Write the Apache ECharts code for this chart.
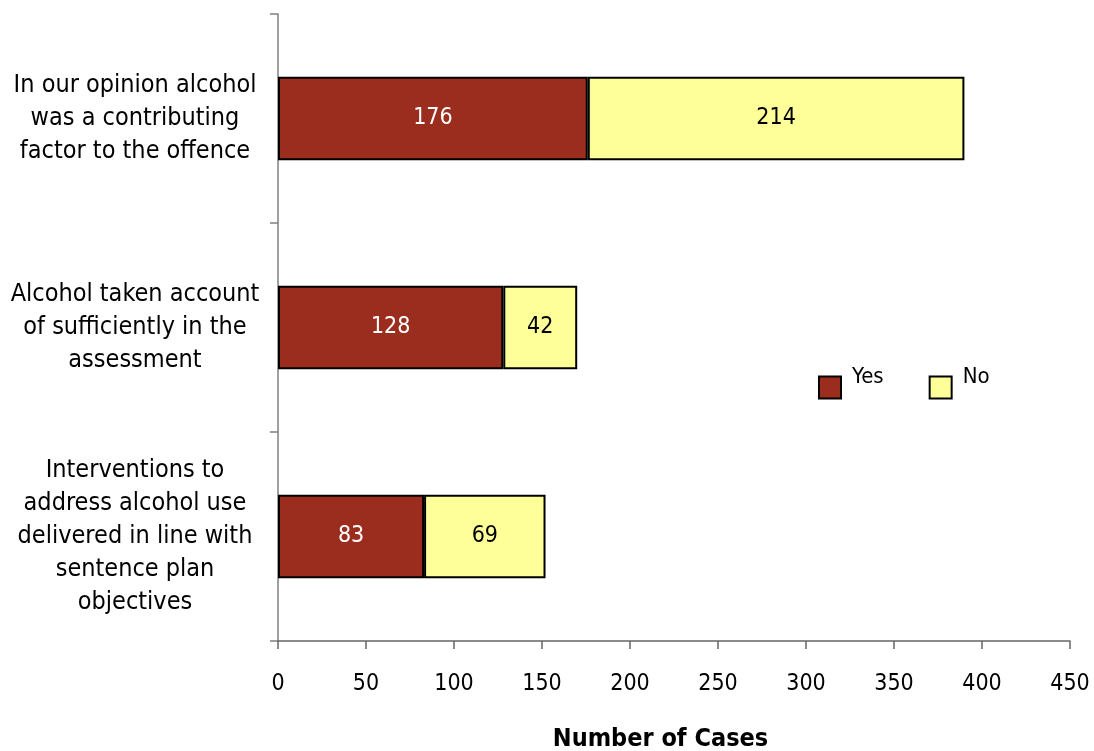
<!DOCTYPE html>
<html><head><meta charset="utf-8">
<script src="https://cdn.jsdelivr.net/npm/echarts@6/dist/echarts.min.js"></script>
<style>html,body{margin:0;padding:0;background:#fff;overflow:hidden}#c{width:1094px;height:751px}</style>
</head><body><div id="c"></div>
<script>
const categories = [
  "In our opinion alcohol\nwas a contributing\nfactor to the offence",
  "Alcohol taken account\nof sufficiently in the\nassessment",
  "Interventions to\naddress alcohol use\ndelivered in line with\nsentence plan\nobjectives"
];
const yesValues = [176, 128, 83];
const noValues = [214, 42, 69];
const seriesNames = ["Yes", "No"];
const xTicks = { min: 0, max: 450, interval: 50 };
const axisTitle = "Number of Cases";

const FONT = "DejaVu Sans Condensed";
const chart = echarts.init(document.getElementById('c'), null, {renderer: 'canvas'});
const labelStyle = { show: true, position: 'inside', color: '#fff', fontSize: 23, fontFamily: FONT };
chart.setOption({
  animation: false,
  backgroundColor: '#fff',
  grid: { left: 278, right: 24, top: 14, bottom: 110, containLabel: false, outerBoundsMode: 'none' },
  legend: {
    left: 818, top: 366, orient: 'horizontal', padding: 0,
    icon: 'rect', itemWidth: 22, itemHeight: 22, itemGap: 45,
    data: seriesNames,
    formatter: function (name) { return name + '\n'; },
    textStyle: { fontSize: 22, lineHeight: 21, fontFamily: FONT, color: '#000', padding: [0, 0, 0, 6] }
  },
  xAxis: {
    type: 'value', min: xTicks.min, max: xTicks.max, interval: xTicks.interval,
    splitLine: { show: false },
    axisLine: { show: true, lineStyle: { color: '#666', width: 1.5 } },
    axisTick: { show: true, length: 8, lineStyle: { color: '#666', width: 1.5 } },
    axisLabel: { fontSize: 23, fontFamily: FONT, color: '#000', margin: 32 },
    name: axisTitle, nameLocation: 'middle', nameGap: 86,
    nameTextStyle: { fontSize: 25, fontWeight: 'bold', fontFamily: FONT, color: '#000', padding: [0, 27, 0, 0] }
  },
  yAxis: {
    type: 'category', data: categories, inverse: true,
    axisLine: { show: true, lineStyle: { color: '#808080', width: 1.5 } },
    axisTick: { show: true, length: 8, alignWithLabel: false, lineStyle: { color: '#808080', width: 1.5 } },
    axisLabel: { fontSize: 25, fontFamily: FONT, color: '#000', align: 'center', margin: 143, lineHeight: 33 }
  },
  series: [
    { name: seriesNames[0], type: 'bar', stack: 't', data: yesValues, barCategoryGap: '60%',
      itemStyle: { color: '#9B2D1F', borderColor: '#000', borderWidth: 2 }, label: labelStyle },
    { name: seriesNames[1], type: 'bar', stack: 't', data: noValues, barCategoryGap: '60%',
      itemStyle: { color: '#FFFF99', borderColor: '#000', borderWidth: 2 },
      label: Object.assign({}, labelStyle, { color: '#000' }) }
  ]
});
</script></body></html>
